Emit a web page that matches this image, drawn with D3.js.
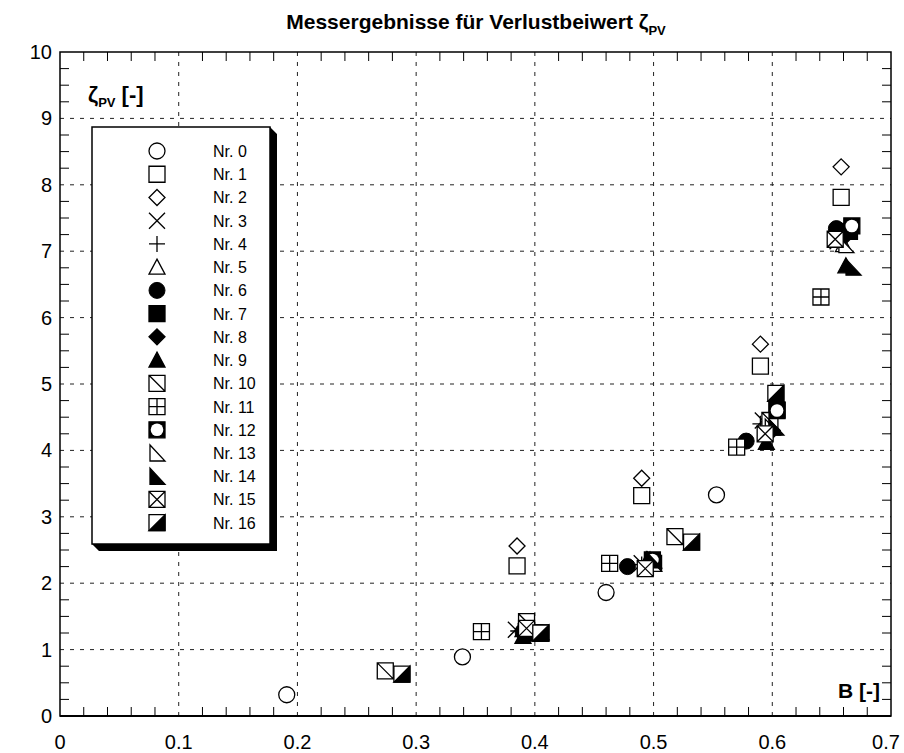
<!DOCTYPE html>
<html>
<head>
<meta charset="utf-8">
<script src="https://cdn.jsdelivr.net/npm/d3@7"></script>
<style>
  body { margin: 0; background: #fff; }
  svg { display: block; font-family: "Liberation Sans", Arial, sans-serif; }
</style>
</head>
<body>
<script>
// DATA  [B, zeta]
var nr0  = [[0.191, 0.32], [0.339, 0.89], [0.460, 1.86], [0.553, 3.33]];
var nr1  = [[0.385, 2.26], [0.490, 3.32], [0.590, 5.27], [0.658, 7.81]];
var nr2  = [[0.385, 2.56], [0.490, 3.58], [0.590, 5.60], [0.658, 8.27]];
var nr3  = [[0.384, 1.30], [0.490, 2.30], [0.592, 4.45], [0.655, 7.15]];
var nr4  = [[0.386, 1.28], [0.490, 2.28], [0.590, 4.40], [0.655, 7.20]];
var nr5  = [[0.390, 1.30], [0.495, 2.35], [0.597, 4.35], [0.660, 7.10]];
var nr6  = [[0.390, 1.27], [0.478, 2.25], [0.578, 4.14], [0.654, 7.34]];
var nr7  = [[0.400, 1.25], [0.500, 2.30], [0.604, 4.61], [0.665, 7.30]];
var nr8  = [[0.395, 1.25], [0.497, 2.30], [0.600, 4.30], [0.660, 7.20]];
var nr9  = [[0.390, 1.20], [0.497, 2.35], [0.595, 4.12], [0.662, 6.78]];
var nr10 = [[0.274, 0.68], [0.393, 1.42], [0.518, 2.70], [0.598, 4.45]];
var nr11 = [[0.355, 1.27], [0.463, 2.30], [0.570, 4.05], [0.641, 6.31]];
var nr12 = [[0.405, 1.25], [0.499, 2.35], [0.604, 4.60], [0.667, 7.38]];
var nr13 = [[0.400, 1.30], [0.500, 2.30], [0.600, 4.35], [0.662, 7.10]];
var nr14 = [[0.405, 1.27], [0.500, 2.35], [0.603, 4.35], [0.668, 6.76]];
var nr15 = [[0.393, 1.32], [0.493, 2.22], [0.594, 4.25], [0.653, 7.18]];
var nr16 = [[0.288, 0.63], [0.405, 1.25], [0.532, 2.62], [0.603, 4.86]];

var seriesNames = ["Nr. 0", "Nr. 1", "Nr. 2", "Nr. 3", "Nr. 4", "Nr. 5", "Nr. 6", "Nr. 7", "Nr. 8",
    "Nr. 9", "Nr. 10", "Nr. 11", "Nr. 12", "Nr. 13", "Nr. 14", "Nr. 15", "Nr. 16"];
var seriesData = [nr0, nr1, nr2, nr3, nr4, nr5, nr6, nr7, nr8, nr9, nr10, nr11, nr12, nr13, nr14, nr15, nr16];

var xTicks = [0, 0.1, 0.2, 0.3, 0.4, 0.5, 0.6, 0.7];
var yTicks = [0, 1, 2, 3, 4, 5, 6, 7, 8, 9, 10];

// D3
var svg = d3.select("body").append("svg")
    .attr("width", 904)
    .attr("height", 753);

const margin = {top: 52, right: 13, bottom: 37, left: 60};
const width = 904 - margin.left - margin.right;
const height = 753 - margin.top - margin.bottom;

const xScale = d3.scaleLinear().domain([0, 0.7]).range([margin.left, margin.left + width]);
const yScale = d3.scaleLinear().domain([0, 10]).range([margin.top + height, margin.top]);

// grid
var grid = svg.append("g");
grid.selectAll("line.gx").data(xTicks.slice(1, -1)).enter().append("line")
    .attr("x1", d => xScale(d)).attr("x2", d => xScale(d))
    .attr("y1", yScale(0)).attr("y2", yScale(10))
    .attr("stroke", "#222").attr("stroke-width", 1).attr("stroke-dasharray", "4,6");
grid.selectAll("line.gy").data(yTicks.slice(1, -1)).enter().append("line")
    .attr("y1", d => yScale(d)).attr("y2", d => yScale(d))
    .attr("x1", xScale(0)).attr("x2", xScale(0.7))
    .attr("stroke", "#222").attr("stroke-width", 1).attr("stroke-dasharray", "4,6");

// minor ticks, inside on all four sides
var xMinor = d3.range(1, 35).map(i => i * 0.02).filter(v => Math.abs(v * 10 - Math.round(v * 10)) > 1e-6);
var yMinor = d3.range(1, 40).map(i => i * 0.25).filter(v => Math.abs(v - Math.round(v)) > 1e-6);
var tk = svg.append("g").attr("stroke", "#000").attr("stroke-width", 1);
xMinor.forEach(function(v) {
    tk.append("line").attr("x1", xScale(v)).attr("x2", xScale(v)).attr("y1", yScale(0)).attr("y2", yScale(0) - 9);
    tk.append("line").attr("x1", xScale(v)).attr("x2", xScale(v)).attr("y1", yScale(10)).attr("y2", yScale(10) + 9);
});
yMinor.forEach(function(v) {
    tk.append("line").attr("y1", yScale(v)).attr("y2", yScale(v)).attr("x1", xScale(0)).attr("x2", xScale(0) + 9);
    tk.append("line").attr("y1", yScale(v)).attr("y2", yScale(v)).attr("x1", xScale(0.7)).attr("x2", xScale(0.7) - 9);
});

// frame
svg.append("rect")
    .attr("x", xScale(0)).attr("y", yScale(10))
    .attr("width", xScale(0.7) - xScale(0)).attr("height", yScale(0) - yScale(10))
    .attr("fill", "none").attr("stroke", "#000").attr("stroke-width", 1.5);
svg.append("line")
    .attr("x1", xScale(0)).attr("x2", xScale(0.7)).attr("y1", yScale(0)).attr("y2", yScale(0))
    .attr("stroke", "#000").attr("stroke-width", 2);

// axis labels
svg.append("g").selectAll("text").data(xTicks).enter().append("text")
    .attr("x", d => Math.min(xScale(d), 886)).attr("y", yScale(0) + 33)
    .attr("text-anchor", "middle").attr("font-size", 20)
    .text(d => d);
svg.append("g").selectAll("text").data(yTicks).enter().append("text")
    .attr("x", xScale(0) - 8).attr("y", d => yScale(d) + 7)
    .attr("text-anchor", "end").attr("font-size", 20)
    .text(d => d);

// title
var title = svg.append("text").attr("x", 476).attr("y", 29)
    .attr("text-anchor", "middle").attr("font-size", 21).attr("font-weight", "bold");
title.append("tspan").text("Messergebnisse für Verlustbeiwert ζ");
title.append("tspan").attr("font-size", 13).attr("dy", 6).text("PV");

var ylab = svg.append("text").attr("x", 88).attr("y", 102)
    .attr("font-size", 22).attr("font-weight", "bold");
ylab.append("tspan").text("ζ");
ylab.append("tspan").attr("font-size", 13).attr("dy", 5).text("PV");
ylab.append("tspan").attr("dy", -5).text(" [-]");

svg.append("text").attr("x", 880).attr("y", 698).attr("text-anchor", "end")
    .attr("font-size", 21).attr("font-weight", "bold").text("B [-]");

// marker shapes
function drawMarker(g, k) {
    var s = 8;
    var sq = "M" + (-s) + "," + (-s) + "H" + s + "V" + s + "H" + (-s) + "Z";
    var sw = 1.3;
    function path(d, fill) {
        g.append("path").attr("d", d).attr("fill", fill).attr("stroke", "#000").attr("stroke-width", sw);
    }
    if (k === 0) g.append("circle").attr("r", s).attr("fill", "#fff").attr("stroke", "#000").attr("stroke-width", sw);
    else if (k === 1) path(sq, "#fff");
    else if (k === 2) path("M0,-8L8,0L0,8L-8,0Z", "#fff");
    else if (k === 3) path("M-8,-8L8,8M-8,8L8,-8", "none");
    else if (k === 4) path("M-8,0H8M0,-8V8", "none");
    else if (k === 5) path("M0,-8L8,7H-8Z", "#fff");
    else if (k === 6) g.append("circle").attr("r", s).attr("fill", "#000").attr("stroke", "#000");
    else if (k === 7) path(sq, "#000");
    else if (k === 8) path("M0,-8L8,0L0,8L-8,0Z", "#000");
    else if (k === 9) path("M0,-8L8,7H-8Z", "#000");
    else if (k === 10) path(sq + "M-8,-8L8,8", "#fff");
    else if (k === 11) path(sq + "M-8,0H8M0,-8V8", "#fff");
    else if (k === 12) {
        path(sq, "#000");
        g.append("circle").attr("r", 6.3).attr("fill", "#fff");
    }
    else if (k === 13) path("M-7,-8L-7,8H8Z", "#fff");
    else if (k === 14) path("M-7,-8L-7,8H8Z", "#000");
    else if (k === 15) path(sq + "M-8,-8L8,8M-8,8L8,-8", "#fff");
    else if (k === 16) {
        path(sq, "#fff");
        path("M-8,8L8,-8V8Z", "#000");
    }
}

// data points
var pts = svg.append("g");
seriesData.forEach(function(arr, k) {
    pts.selectAll("g.s" + k).data(arr).enter().append("g")
        .attr("class", "s" + k)
        .attr("transform", d => "translate(" + xScale(d[0]) + "," + yScale(d[1]) + ")")
        .each(function() { drawMarker(d3.select(this), k); });
});

// legend
var lx0 = 92, ly0 = 127, lx1 = 270, ly1 = 544, dd = 7;
svg.append("polygon")
    .attr("points", [[lx0, ly1], [lx0 + dd, ly1 + dd], [lx1 + dd, ly1 + dd], [lx1 + dd, ly0 + dd], [lx1, ly0], [lx1, ly1]].join(" "))
    .attr("fill", "#000");
svg.append("rect").attr("x", lx0).attr("y", ly0).attr("width", lx1 - lx0).attr("height", ly1 - ly0)
    .attr("fill", "#fff").attr("stroke", "#000").attr("stroke-width", 1.5);

var legY = d3.scaleLinear().domain([0, 16]).range([151, 522.7]);
var leg = svg.append("g");
seriesNames.forEach(function(name, k) {
    var row = leg.append("g").attr("transform", "translate(157," + legY(k) + ")");
    drawMarker(row, k);
    leg.append("text").attr("x", 213).attr("y", legY(k) + 6)
        .attr("font-size", 16).text(name);
});
</script>
</body>
</html>
